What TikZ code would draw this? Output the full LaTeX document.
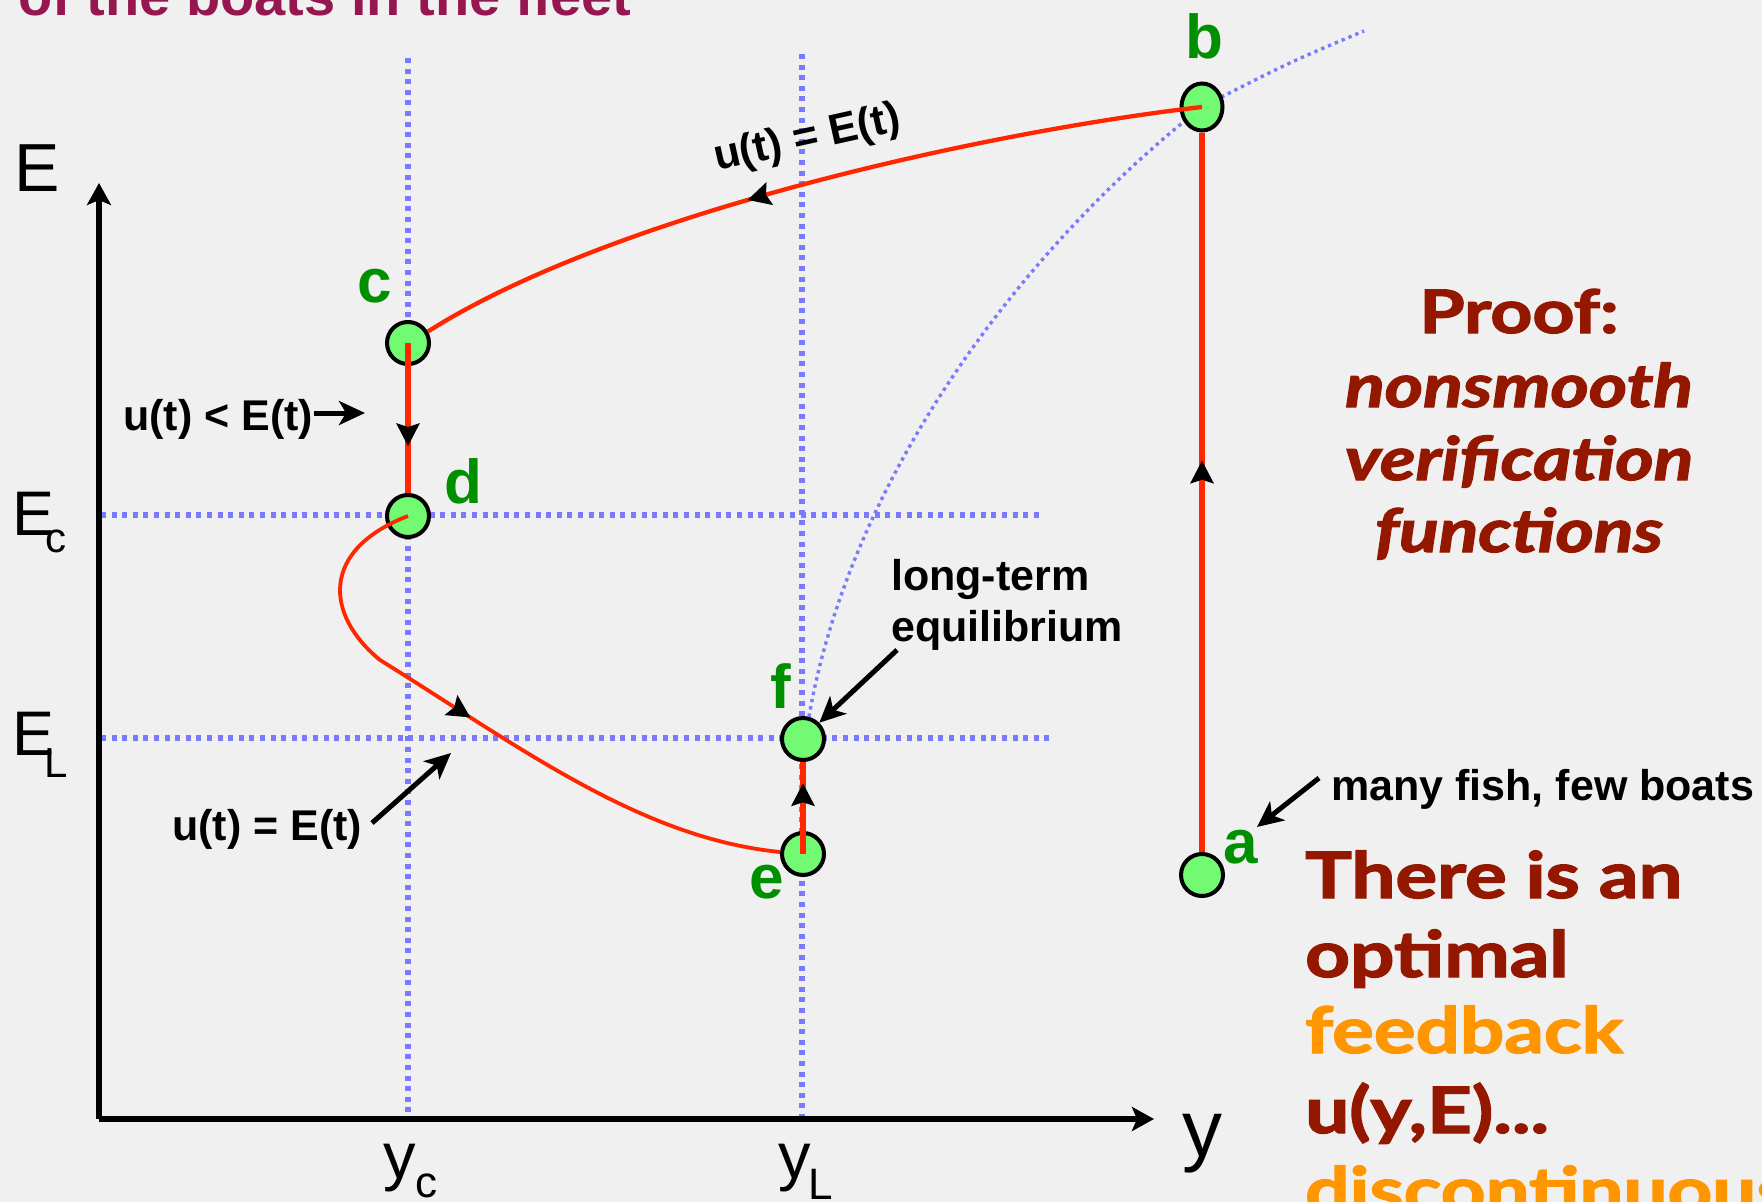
\documentclass[tikz,border=0pt]{standalone}
\usepackage{fontspec}
\setmainfont{Liberation Sans}
\newfontfamily\gillfont{Lato}[BoldFeatures={FakeBold=2},BoldItalicFeatures={FakeBold=2}]
\usetikzlibrary{arrows.meta,decorations.markings,shapes.geometric}
\definecolor{bgc}{RGB}{240,240,240}
\definecolor{dotblue}{RGB}{122,122,255}
\definecolor{lred}{RGB}{255,38,0}
\definecolor{ptgreen}{RGB}{115,250,115}
\definecolor{lblgreen}{RGB}{0,143,0}
\definecolor{proofred}{RGB}{148,23,0}
\definecolor{fborange}{RGB}{255,150,0}
\definecolor{titlepurple}{RGB}{150,22,80}
\newcommand\fsz[1]{\fontsize{#1}{#1}\selectfont}
\newcommand\wide[1]{\scalebox{1.22}[1]{#1}}
\begin{document}
\begin{tikzpicture}[x=1pt,y=-1pt,
  bluedot/.style={draw=dotblue,line width=5.2pt,dash pattern=on 5pt off 5.6pt},
  bluedotthin/.style={draw=dotblue,line width=3.4pt,dash pattern=on 3.4pt off 4pt},
  redline/.style={draw=lred,line width=6pt},
  redcurve/.style={draw=lred,line width=3.8pt},
  midarrow/.style={postaction={decorate},decoration={markings,mark=at position #1 with {\fill[black] (10pt,0pt) -- (-13pt,12pt) -- (-9pt,0pt) -- (-13pt,-12pt) -- cycle;}}},
  axisline/.style={draw=black,line width=6pt,-{Stealth[length=22pt,width=24pt,inset=5pt]}},
  blkarrow/.style={draw=black,line width=5pt,-{Stealth[length=26pt,width=24pt,inset=7pt]}},
  ptnode/.style={circle,draw=black,line width=4pt,fill=ptgreen,minimum size=42pt,inner sep=0pt},
  txt/.style={anchor=base west,inner sep=0pt},
  greenlbl/.style={txt,text=lblgreen,font=\fsz{62}\bfseries},
  blklbl/.style={txt,font=\fsz{43}\bfseries},
  axlbl/.style={txt,font=\fsz{63}},
  sublbl/.style={txt,font=\fsz{42}},
  prooftxt/.style={anchor=base,inner sep=0pt,text=proofred,font=\fsz{60}\gillfont\bfseries},
  bigtxt/.style={txt,font=\fsz{64}\gillfont\bfseries}
]
\useasboundingbox (0,0) rectangle (1762,1202);
\fill[bgc] (0,0) rectangle (1762,1202);

% coordinates
\coordinate (O) at (99,1119);
\coordinate (Ytop) at (99,183);
\coordinate (Xend) at (1154,1119);
\coordinate (ycT) at (408,58);
\coordinate (ycB) at (408,1117);
\coordinate (yLT) at (802,54);
\coordinate (yLB) at (802,1117);
\coordinate (EcL) at (101,515);
\coordinate (EcR) at (1043,515);
\coordinate (ELL) at (101,738);
\coordinate (ELR) at (1050,738);
\coordinate (bEnd) at (1364,31);

% dotted guide lines
\draw[bluedot] (ycT) -- (ycB);
\draw[bluedot] (yLT) -- (yLB);
\draw[bluedot] (EcL) -- (EcR);
\draw[bluedot] (ELL) -- (ELR);

% axes
\draw[axisline] (O) -- (Ytop);
\draw[axisline] (O) -- (Xend);

% points
\node[ptnode] (nc) at (408,343) {};
\node[ptnode] (nd) at (408,516) {};
\node[ptnode] (nf) at (803,739) {};
\node[ptnode] (ne) at (803,854) {};
\node[ptnode] (na) at (1202,875) {};

% dotted curve (under b)
\draw[bluedotthin] (nf.75) .. controls (850,480) and (1020,250) .. (1202,107) .. controls (1290,62) .. (bEnd);
\node[ptnode,ellipse,minimum size=0pt,minimum width=41pt,minimum height=47pt] (nb) at (1202,107) {};

% red trajectories
\draw[redline,midarrow=0.53] (na.north) -- (nb.south);
\draw[redcurve,line width=4.3pt,midarrow=0.56] (nb.center) .. controls (1000,130) and (620,210) .. (nc.30);
\draw[redline,midarrow=0.62] (nc.center) -- (nd.north);
\draw[redcurve,midarrow=0.45] (nd.center) .. controls (320,550) and (325,615) .. (380,660)
      .. controls (520,747) and (640,838) .. (ne.175);
\draw[redline,midarrow=0.66] (ne.center) -- (nf.south);

% point labels
\node[greenlbl] (lb) at (1185,58) {b};
\node[greenlbl] (lc) at (357,302) {c};
\node[greenlbl] (ld) at (444,503) {d};
\node[greenlbl] (lf) at (770,708) {f};
\node[greenlbl] (le) at (749,898) {e};
\node[greenlbl] (la) at (1223,863) {a};

% axis labels
\node[txt,font=\fsz{68}] (lE) at (14,191) {E};
\node[txt,font=\fsz{80}] (ly) at (1182,1156) {y};
\node[axlbl] (lEc) at (12,535) {E};
\node[sublbl] (lEcs) at (45,552) {c};
\node[axlbl] (lEL) at (12,755) {E};
\node[sublbl] (lELs) at (44,777) {L};
\node[txt,font=\fsz{65}] (lyc) at (383,1178) {y};
\node[txt,font=\fsz{44}] (lycs) at (415,1197) {c};
\node[txt,font=\fsz{65}] (lyL) at (778,1178) {y};
\node[txt,font=\fsz{44}] (lyLs) at (808,1199) {L};

% annotations
\node[blklbl,rotate=12.5] (ltop) at (717,171) {u(t) = E(t)};
\node[blklbl] (lult) at (123,430) {u(t) < E(t)};
\coordinate (ultStart) at (314,413);
\coordinate (ultTip) at (365,413);
\draw[blkarrow] (ultStart) -- (ultTip);
\node[blklbl] (lueq) at (172,840) {u(t) = E(t)};
\coordinate (ueqS) at (372,823);
\coordinate (ueqTip) at (451,753);
\draw[blkarrow] (ueqS) -- (ueqTip);
\node[blklbl] (llt1) at (891,590) {long-term};
\node[blklbl] (llt2) at (891,641) {equilibrium};
\coordinate (ltS) at (897,650);
\draw[blkarrow] (ltS) -- (nf.45);
\node[blklbl] (lfish) at (1331,800) {many fish, few boats};
\coordinate (fishS) at (1319,778);
\coordinate (fishTip) at (1257,827);
\draw[blkarrow] (fishS) -- (fishTip);

% title (cut off)
\node[txt,text=titlepurple,font=\fsz{56}\bfseries] (title) at (18,15) {of the boats in the fleet};

% proof text
\node[prooftxt] (p1) at (1519,333) {\wide{Proof:}};
\node[prooftxt,font=\fsz{60}\gillfont\bfseries\itshape] (p2) at (1519,407) {\wide{nonsmooth}};
\node[prooftxt,font=\fsz{60}\gillfont\bfseries\itshape] (p3) at (1519,480) {\wide{verification}};
\node[prooftxt,font=\fsz{60}\gillfont\bfseries\itshape] (p4) at (1519,552) {\wide{functions}};

% conclusion text
\node[bigtxt,text=proofred] (t1) at (1305,898) {\wide{There is an}};
\node[bigtxt,text=proofred] (t2) at (1305,977) {\wide{optimal}};
\node[bigtxt,text=fborange] (t3) at (1305,1053) {\wide{feedback}};
\node[bigtxt,text=proofred] (t4) at (1305,1133) {\wide{u(y,E)...}};
\node[bigtxt,text=fborange] (t5) at (1305,1213) {\wide{discontinuous}};
\end{tikzpicture}
\end{document}
